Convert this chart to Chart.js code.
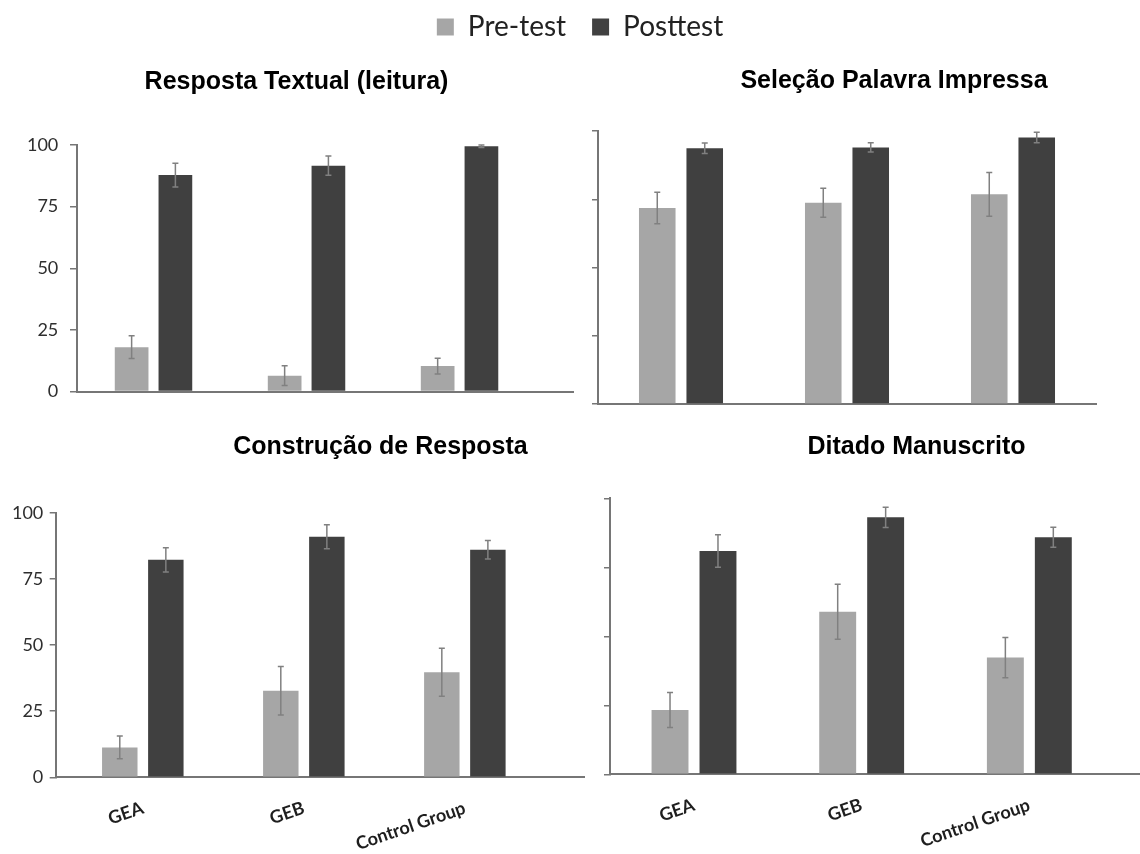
<!DOCTYPE html>
<html>
<head>
<meta charset="utf-8">
<script src="https://cdn.jsdelivr.net/npm/chart.js@4.4.1/dist/chart.umd.min.js"></script>
<style>
  html, body { margin: 0; padding: 0; background: #ffffff; overflow: hidden; }
  #page { position: relative; width: 1140px; height: 854px; overflow: hidden; background: #ffffff; }
  .box { position: absolute; }
  .box canvas { display: block; }
</style>
</head>
<body>
<div id="page">
  <div class="box" id="b-legend"><canvas id="c-legend"></canvas></div>
  <div class="box" id="b-1"><canvas id="c-1"></canvas></div>
  <div class="box" id="b-2"><canvas id="c-2"></canvas></div>
  <div class="box" id="b-3"><canvas id="c-3"></canvas></div>
  <div class="box" id="b-4"><canvas id="c-4"></canvas></div>
</div>
<script>
// ---- data ----
const groups = ['GEA', 'GEB', 'Control Group'];
const seriesNames = ['Pre-test', 'Posttest'];
const yTicks = [0, 25, 50, 75, 100];

const titles = [
  'Resposta Textual (leitura)',
  'Seleção Palavra Impressa',
  'Construção de Resposta',
  'Ditado Manuscrito'
];

// Resposta Textual (leitura)
const textualPre = [18.0, 6.4, 10.3];
const textualPreErr = [4.6, 4.0, 3.2];
const textualPost = [87.8, 91.6, 99.5];
const textualPostErr = [4.8, 3.9, 0.5];

// Seleção Palavra Impressa
const selecaoPre = [71.8, 73.7, 76.8];
const selecaoPreErr = [5.8, 5.3, 8.0];
const selecaoPost = [93.7, 94.0, 97.6];
const selecaoPostErr = [1.9, 1.7, 1.9];

// Construção de Resposta
const construcaoPre = [11.3, 32.7, 39.7];
const construcaoPreErr = [4.3, 9.2, 9.1];
const construcaoPost = [82.2, 90.9, 86.0];
const construcaoPostErr = [4.6, 4.5, 3.5];

// Ditado Manuscrito
const ditadoPre = [23.3, 58.9, 42.3];
const ditadoPreErr = [6.3, 10.0, 7.3];
const ditadoPost = [80.9, 93.1, 85.9];
const ditadoPostErr = [5.9, 3.7, 3.6];

// ---- styles ----
const preColor = '#a6a6a6';
const postColor = '#404040';
const axisColor = '#767676';
const errColor = '#808080';

// Vertical error whiskers drawn over each bar
const errorBars = {
  id: 'errorBars',
  afterDatasetsDraw(chart) {
    const ctx = chart.ctx;
    const y = chart.scales.y;
    ctx.save();
    ctx.strokeStyle = errColor;
    ctx.lineWidth = 1.5;
    chart.data.datasets.forEach((ds, di) => {
      if (!ds.errors) return;
      const meta = chart.getDatasetMeta(di);
      meta.data.forEach((bar, i) => {
        const v = ds.data[i].y;
        const e = ds.errors[i];
        const top = y.getPixelForValue(v + e);
        const bot = y.getPixelForValue(v - e);
        ctx.beginPath();
        ctx.moveTo(bar.x, top); ctx.lineTo(bar.x, bot);
        ctx.moveTo(bar.x - 3, top); ctx.lineTo(bar.x + 3, top);
        ctx.moveTo(bar.x - 3, bot); ctx.lineTo(bar.x + 3, bot);
        ctx.stroke();
      });
    });
    ctx.restore();
  }
};

function place(id, r) {
  const el = document.getElementById(id);
  el.style.left = r.left + 'px';
  el.style.top = r.top + 'px';
  el.style.width = r.width + 'px';
  el.style.height = r.height + 'px';
}

// ---- shared legend ----
place('b-legend', { left: 0, top: -13, width: 1140, height: 110 });
new Chart(document.getElementById('c-legend'), {
  type: 'bar',
  data: {
    labels: [],
    datasets: [
      { label: seriesNames[0], data: [], backgroundColor: preColor, borderWidth: 0 },
      { label: seriesNames[1], data: [], backgroundColor: postColor, borderWidth: 0 }
    ]
  },
  options: {
    responsive: true,
    maintainAspectRatio: false,
    animation: false,
    layout: { padding: { left: 20 } },
    scales: { x: { display: false }, y: { display: false } },
    plugins: {
      title: { display: false },
      tooltip: { enabled: false },
      legend: {
        display: true,
        position: 'top',
        labels: {
          boxWidth: 17,
          boxHeight: 17,
          padding: 26,
          color: '#222222',
          font: { family: 'Lato', size: 28 }
        }
      }
    }
  }
});

// ---- the four panels ----
const panels = [
  { id: 'c-1', box: 'b-1', title: titles[0],
    pre: textualPre, preErr: textualPreErr, post: textualPost, postErr: textualPostErr,
    rect: { left: 19, top: 50, width: 555, height: 364 },
    titlePad: { top: 16.7, bottom: 48.3 }, yW: 58, rightW: 0, xH: 10,
    xMin: -0.5, xMax: 2.748, showX: false, showY: true, tickLen: 7, labelPad: 11.7, xPad: 0 },
  { id: 'c-2', box: 'b-2', title: titles[1],
    pre: selecaoPre, preErr: selecaoPreErr, post: selecaoPost, postErr: selecaoPostErr,
    rect: { left: 578, top: 50, width: 632, height: 364 },
    titlePad: { top: 16.5, bottom: 34.5 }, yW: 20, rightW: 114, xH: 10,
    xMin: -0.5, xMax: 2.5, showX: false, showY: false, tickLen: 6, labelPad: 6, xPad: 0 },
  { id: 'c-3', box: 'b-3', title: titles[2],
    pre: construcaoPre, preErr: construcaoPreErr, post: construcaoPost, postErr: construcaoPostErr,
    rect: { left: 5, top: 420, width: 751, height: 437 },
    titlePad: { top: 11.7, bottom: 51 }, yW: 50.7, rightW: 172, xH: 79.7,
    xMin: -0.541, xMax: 2.74, showX: true, showY: true, tickLen: 6, labelPad: 6.4, xPad: 20 },
  { id: 'c-4', box: 'b-4', title: titles[3],
    pre: ditadoPre, preErr: ditadoPreErr, post: ditadoPost, postErr: ditadoPostErr,
    rect: { left: 590, top: 420, width: 653, height: 434 },
    titlePad: { top: 11.7, bottom: 36.6 }, yW: 20, rightW: 103, xH: 79.7,
    xMin: -0.501, xMax: 2.66, showX: true, showY: false, tickLen: 6, labelPad: 6, xPad: 20 }
];

panels.forEach(p => {
  place(p.box, p.rect);

  const scales = {
    x: {
      type: 'linear',
      min: p.xMin,
      max: p.xMax,
      offset: false,
      bounds: 'data',
      afterBuildTicks: s => { s.ticks = groups.map((g, i) => ({ value: i })); },
      afterFit: s => { s.height = p.xH; },
      grid: { display: true, drawOnChartArea: false, drawTicks: false },
      border: { display: true, color: axisColor, width: 2 },
      ticks: {
        display: p.showX,
        autoSkip: false,
        minRotation: 19,
        maxRotation: 19,
        padding: p.xPad,
        color: '#1e1e1e',
        font: { family: 'Lato', size: 18, weight: 'bold' },
        callback: v => groups[v]
      }
    },
    y: {
      type: 'linear',
      position: 'left',
      min: 0,
      max: 100,
      afterBuildTicks: s => { s.ticks = yTicks.map(v => ({ value: v })); },
      afterFit: s => { s.width = p.yW; },
      grid: { display: true, drawOnChartArea: false, drawTicks: true, tickLength: p.tickLen, color: axisColor, lineWidth: 1.5 },
      border: { display: true, color: axisColor, width: 2 },
      ticks: { display: p.showY, padding: p.labelPad, color: '#2e2e2e', font: { family: 'Lato', size: 18 } }
    }
  };
  if (p.rightW) {
    // empty right-hand gutter so the heading sits where it belongs
    scales.yr = {
      type: 'linear', axis: 'y', position: 'right', display: true,
      afterFit: s => { s.width = p.rightW; },
      grid: { display: false, drawTicks: false },
      border: { display: false },
      ticks: { display: false }
    };
  }

  new Chart(document.getElementById(p.id), {
    type: 'bar',
    data: {
      datasets: [
        { label: seriesNames[0], data: p.pre.map((v, i) => ({ x: i, y: v })), errors: p.preErr,
          backgroundColor: preColor, borderWidth: 0 },
        { label: seriesNames[1], data: p.post.map((v, i) => ({ x: i, y: v })), errors: p.postErr,
          backgroundColor: postColor, borderWidth: 0 }
      ]
    },
    options: {
      responsive: true,
      maintainAspectRatio: false,
      animation: false,
      datasets: { bar: { categoryPercentage: 0.572, barPercentage: 0.77 } },
      layout: { padding: 0 },
      scales: scales,
      plugins: {
        legend: { display: false },
        tooltip: { enabled: false },
        title: {
          display: true,
          text: p.title,
          color: '#000000',
          padding: p.titlePad,
          font: { family: 'Liberation Sans', size: 25, weight: 'bold', lineHeight: 1.2 }
        }
      }
    },
    plugins: [errorBars]
  });
});
</script>
</body>
</html>
